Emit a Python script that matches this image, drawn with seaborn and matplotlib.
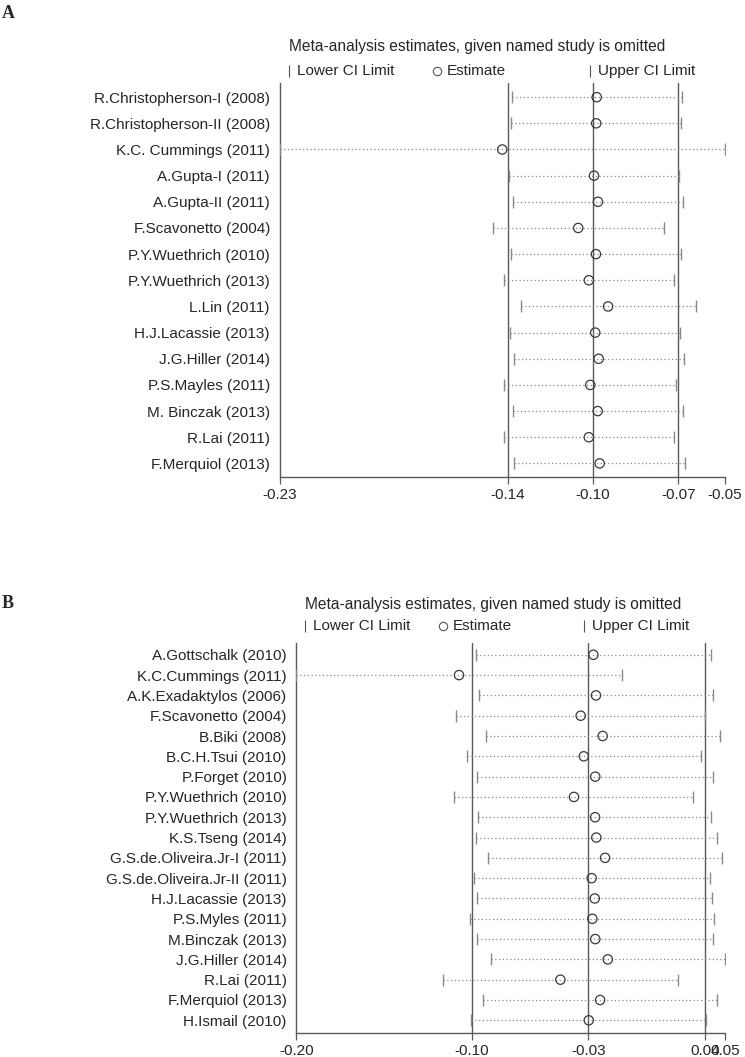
import numpy as np
import pandas as pd
import matplotlib
matplotlib.use("Agg")
import matplotlib.pyplot as plt
from matplotlib.lines import Line2D
import seaborn as sns

# -----------------------
# Data: panel A
# -----------------------
studies_a = ["R.Christopherson-I (2008)", "R.Christopherson-II (2008)", "K.C. Cummings (2011)",
             "A.Gupta-I (2011)", "A.Gupta-II (2011)", "F.Scavonetto (2004)", "P.Y.Wuethrich (2010)",
             "P.Y.Wuethrich (2013)", "L.Lin (2011)", "H.J.Lacassie (2013)", "J.G.Hiller (2014)",
             "P.S.Mayles (2011)", "M. Binczak (2013)", "R.Lai (2011)", "F.Merquiol (2013)"]
est_a = [-0.1005, -0.1007, -0.1388, -0.1016, -0.1000, -0.1080, -0.1008, -0.1037,
         -0.0959, -0.1011, -0.0997, -0.1031, -0.1001, -0.1037, -0.0993]
low_a = [-0.1350, -0.1351, -0.2290, -0.1361, -0.1343, -0.1425, -0.1354, -0.1382,
         -0.1313, -0.1358, -0.1340, -0.1380, -0.1346, -0.1382, -0.1339]
up_a = [-0.0660, -0.0662, -0.0485, -0.0671, -0.0654, -0.0731, -0.0662, -0.0693,
        -0.0601, -0.0666, -0.0651, -0.0682, -0.0656, -0.0692, -0.0647]
# overall: min, lower CI, estimate, upper CI, max
ticks_a = [-0.2290, -0.1365, -0.1020, -0.0675, -0.0485]

# -----------------------
# Data: panel B
# -----------------------
studies_b = ["A.Gottschalk (2010)", "K.C.Cummings (2011)", "A.K.Exadaktylos (2006)",
             "F.Scavonetto (2004)", "B.Biki (2008)", "B.C.H.Tsui (2010)", "P.Forget (2010)",
             "P.Y.Wuethrich (2010)", "P.Y.Wuethrich (2013)", "K.S.Tseng (2014)",
             "G.S.de.Oliveira.Jr-I (2011)", "G.S.de.Oliveira.Jr-II (2011)", "H.J.Lacassie (2013)",
             "P.S.Myles (2011)", "M.Binczak (2013)", "J.G.Hiller (2014)", "R.Lai (2011)",
             "F.Merquiol (2013)", "H.Ismail (2010)"]
est_b = [-0.0286, -0.1068, -0.0271, -0.0360, -0.0232, -0.0342, -0.0275, -0.0399, -0.0276,
         -0.0269, -0.0218, -0.0296, -0.0278, -0.0292, -0.0275, -0.0202, -0.0478, -0.0247, -0.0313]
low_b = [-0.0969, -0.2015, -0.0952, -0.1084, -0.0913, -0.1023, -0.0963, -0.1095, -0.0959,
         -0.0971, -0.0901, -0.0979, -0.0961, -0.1006, -0.0961, -0.0884, -0.1159, -0.0928, -0.0996]
up_b = [0.0399, -0.0117, 0.0409, 0.0366, 0.0451, 0.0339, 0.0410, 0.0296, 0.0401,
        0.0432, 0.0463, 0.0393, 0.0405, 0.0418, 0.0410, 0.0480, 0.0209, 0.0436, 0.0368]
ticks_b = [-0.2015, -0.0995, -0.0315, 0.0365, 0.0480]

sns.set_style("white")
plt.rcParams["font.family"] = ["Liberation Sans", "DejaVu Sans"]

fig = plt.figure(figsize=(7.45, 10.57), dpi=100)

line_c = "#5a5a5a"
dot_c = "#8a8a8a"
FS = 11


def panel(rect, studies, est, low, up, ticks, pad_top, pad_bot):
    ax = fig.add_axes(rect)
    df = pd.DataFrame({"pos": np.arange(len(studies)), "est": est, "low": low, "up": up})
    # reference lines: overall lower CI, estimate, upper CI
    for t in ticks[1:4]:
        ax.axvline(t, color=line_c, lw=1.0, zorder=1)
    ax.hlines(df["pos"], df["low"], df["up"], colors=dot_c, linestyles=(0, (1, 2)), lw=0.9, zorder=2)
    sns.scatterplot(data=df, x="low", y="pos", marker="|", s=70, color=dot_c, linewidth=1.0, ax=ax, zorder=3)
    sns.scatterplot(data=df, x="up", y="pos", marker="|", s=70, color=dot_c, linewidth=1.0, ax=ax, zorder=3)
    sns.scatterplot(data=df, x="est", y="pos", marker="o", s=45, facecolor="none",
                    edgecolor="#3a3a3a", linewidth=0.9, ax=ax, zorder=4)
    ax.set_xlim(ticks[0], ticks[-1])
    ax.set_ylim(len(studies) - 1 + pad_bot, -pad_top)
    ax.set_yticks(df["pos"])
    ax.set_yticklabels(studies, fontsize=FS)
    ax.set_xticks(ticks)
    ax.set_xticklabels(["%.2f" % t for t in ticks], fontsize=FS)
    ax.tick_params(axis="y", length=0, pad=7)
    ax.tick_params(axis="x", bottom=True, length=5, width=0.9, color=line_c, pad=3)
    ax.set_xlabel("")
    ax.set_ylabel("")
    for s in ["top", "right"]:
        ax.spines[s].set_visible(False)
    for s in ["left", "bottom"]:
        ax.spines[s].set_color(line_c)
        ax.spines[s].set_linewidth(1.0)
    return ax


panel([279.7 / 745, 1 - 477 / 1057, (725 - 279.7) / 745, (477 - 83.3) / 1057],
      studies_a, est_a, low_a, up_a, ticks_a, 0.53, 0.52)
panel([296.3 / 745, 1 - 1033.3 / 1057, (725 - 296.3) / 745, (1033.3 - 643) / 1057],
      studies_b, est_b, low_b, up_b, ticks_b, 0.58, 0.64)


def header(x0, y_title, y_leg, xs):
    fig.text(x0 / 745, 1 - y_title / 1057, "Meta-analysis estimates, given named study is omitted",
             fontsize=11.2, va="center", ha="left")
    labels = ["Lower CI Limit", "Estimate", "Upper CI Limit"]
    marks = ["|", "o", "|"]
    gaps = [8, 10, 8]
    for x, m, g, lab in zip(xs, marks, gaps, labels):
        yy = 1 - y_leg / 1057
        fig.add_artist(Line2D([x / 745], [yy], marker=m, ms=6 if m == "o" else 8,
                              mfc="none", mec="#555555", mew=0.8, ls="none",
                              transform=fig.transFigure))
        fig.text((x + g) / 745, yy, lab, fontsize=FS, va="center", ha="left")


header(289, 47, 71, [289, 437, 590])
header(305, 605, 626, [305, 443, 584])

fig.text(2 / 745, 1 - 14 / 1057, "A", fontsize=13, fontweight="bold",
         family=["Liberation Serif"], va="center", ha="left")
fig.text(2 / 745, 1 - 603 / 1057, "B", fontsize=13, fontweight="bold",
         family=["Liberation Serif"], va="center", ha="left")

fig.savefig("out.png", dpi=100)
